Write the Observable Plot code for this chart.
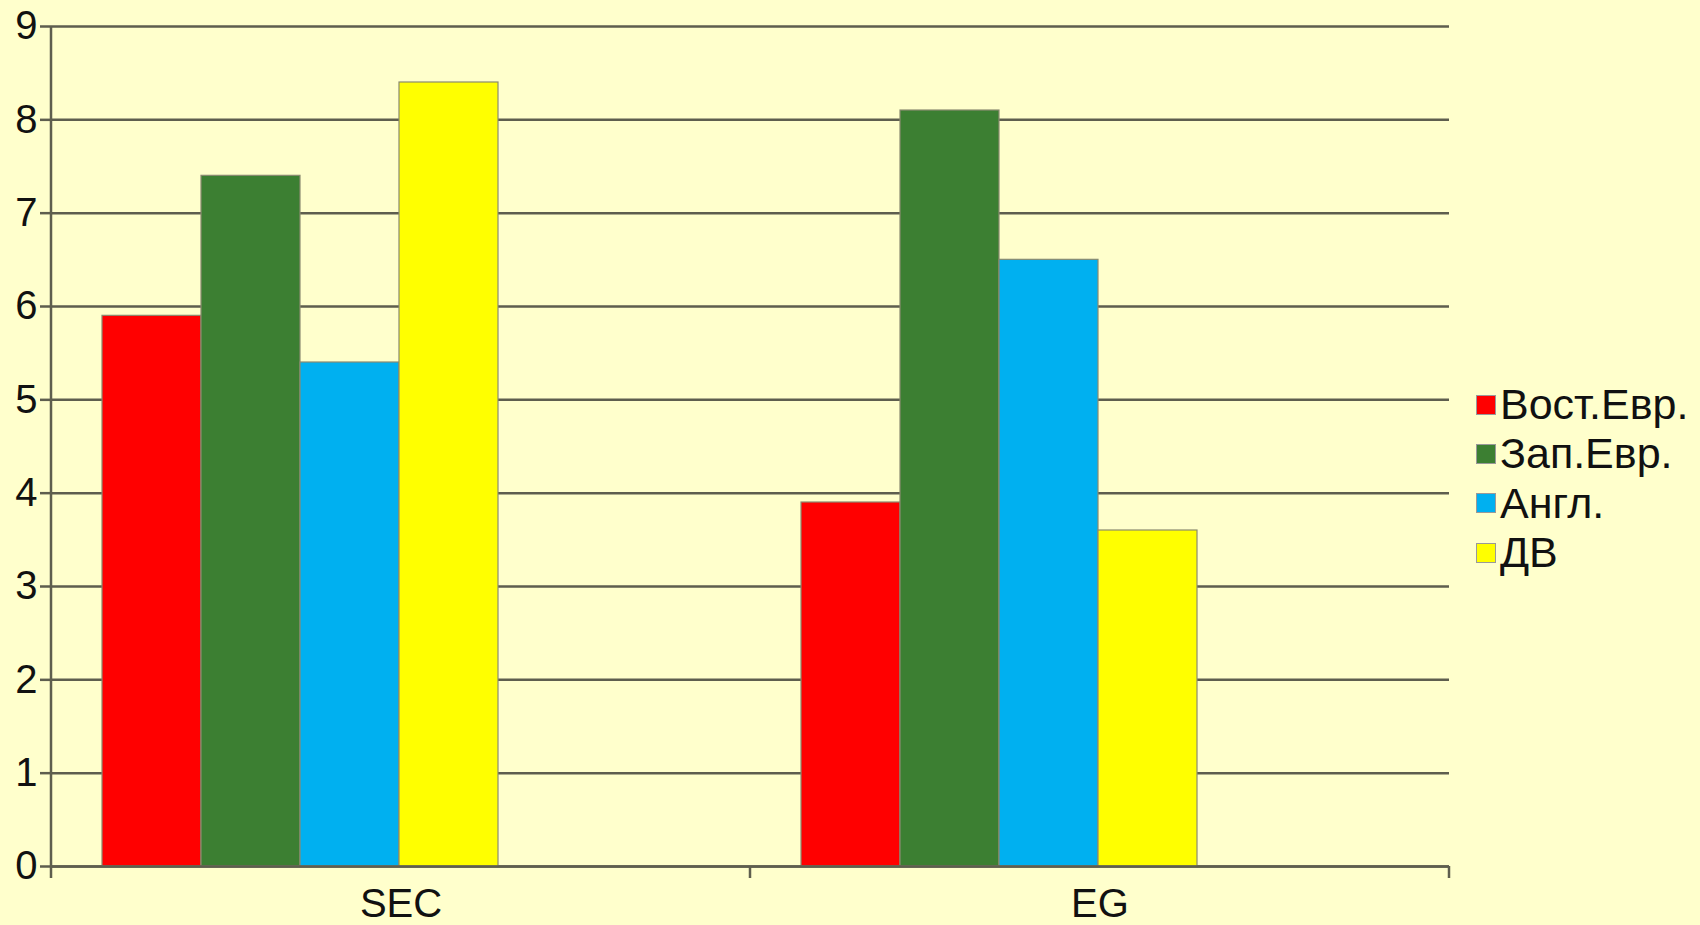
<!DOCTYPE html>
<html>
<head>
<meta charset="utf-8">
<script src="https://cdn.jsdelivr.net/npm/d3@7"></script>
<script src="https://cdn.jsdelivr.net/npm/@observablehq/plot@0.6"></script>
<style>
  html, body { margin: 0; padding: 0; background: #FFFFCC; }
  #wrap { position: relative; width: 1700px; height: 925px; overflow: hidden; }
  #legend { position: absolute; left: 1476px; top: 380px; font-family: "Liberation Sans", Arial, sans-serif; font-size: 43px; color: #111; }
  #legend .row { display: flex; align-items: center; height: 49.3px; }
  #legend .sw { width: 18px; height: 18px; border: 1px solid #999; margin-right: 4px; box-sizing: content-box; }
</style>
</head>
<body>
<div id="wrap"></div>
<script>
const categories = ["SEC", "EG"];
const series = ["Вост.Евр.", "Зап.Евр.", "Англ.", "ДВ"];
const colors = ["#FF0000", "#3C7F32", "#00B0F0", "#FFFF00"];
const valuesSEC = [5.9, 7.4, 5.4, 8.4];
const valuesEG = [3.9, 8.1, 6.5, 3.6];
const yTicks = [0, 1, 2, 3, 4, 5, 6, 7, 8, 9];

const valuesByCat = {SEC: valuesSEC, EG: valuesEG};
const data = categories.flatMap(c => series.map((s, i) => ({cat: c, series: s, value: valuesByCat[c][i]})));

const font = '"Liberation Sans", Arial, sans-serif';
const gridColor = "#5E5E4E";

const plot = Plot.plot({
  width: 1700,
  height: 925,
  marginTop: 26,
  marginBottom: 59,
  marginLeft: 51,
  marginRight: 251,
  style: {background: "#FFFFCC", fontFamily: font, color: "#111"},
  fx: {domain: categories, padding: 0, label: null},
  x: {domain: series, paddingInner: 0, paddingOuter: 1.5, align: 1 / 6, axis: null},
  y: {domain: [0, 9], label: null},
  color: {domain: series, range: colors},
  marks: [
    Plot.gridY(yTicks, {stroke: gridColor, strokeOpacity: 1, strokeWidth: 2.5}),
    Plot.axisY(yTicks, {tickSize: 11, tickPadding: 3, fontSize: 40, stroke: gridColor, strokeWidth: 2.5, fill: "#111", label: null, tickFormat: d => String(d)}),
    Plot.axisFx({anchor: "bottom", tickSize: 0, tickPadding: 22, fontSize: 40, fill: "#111", label: null}),
    Plot.barY(data, {fx: "cat", x: "series", y: "value", fill: "series", stroke: "#8A8A70", strokeWidth: 1.2}),
    Plot.ruleY([0], {stroke: gridColor, strokeWidth: 2.5})
  ]
});

document.getElementById("wrap").appendChild(plot);

// axis line on the left and category boundary ticks, from Plot's own scales
const fx = plot.scale("fx");
const y = plot.scale("y");
const svg = d3.select(plot);
const y0 = y.apply(0), y9 = y.apply(9);
const left = fx.apply(categories[0]);
const g = svg.append("g").attr("stroke", gridColor).attr("stroke-width", 2.5);
g.append("line").attr("x1", left).attr("x2", left).attr("y1", y9).attr("y2", y0);
const edges = categories.map(c => fx.apply(c)).concat([fx.apply(categories[categories.length - 1]) + fx.bandwidth]);
edges.forEach(xe => g.append("line").attr("x1", xe).attr("x2", xe).attr("y1", y0).attr("y2", y0 + 12));

// legend
const legend = d3.select("#wrap").append("div").attr("id", "legend");
series.forEach((s, i) => {
  const row = legend.append("div").attr("class", "row");
  row.append("div").attr("class", "sw").style("background", colors[i]);
  row.append("span").text(s);
});
</script>
</body>
</html>
